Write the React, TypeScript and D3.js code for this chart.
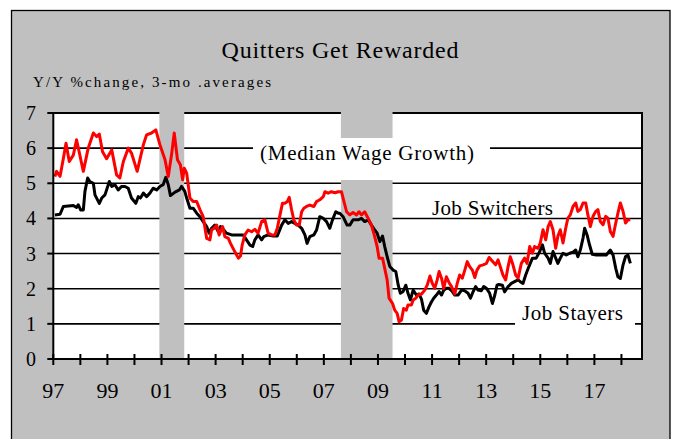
import React from "react";
import * as d3 from "d3";

// fractional year, y/y % change (3-mo avg)
const switchers: [number, number][] = [
  [1997.06, 5.19], [1997.12, 5.34], [1997.25, 5.2], [1997.37, 5.7], [1997.47, 6.14], [1997.59, 5.62],
  [1997.74, 5.8], [1997.86, 6.24], [1998.11, 5.34], [1998.29, 6.0], [1998.48, 6.43], [1998.6, 6.33],
  [1998.7, 6.4], [1998.82, 5.9], [1998.97, 5.7], [1999.16, 5.95], [1999.34, 5.24], [1999.46, 5.15],
  [1999.59, 5.62], [1999.77, 6.0], [1999.89, 5.86], [2000.1, 5.34], [2000.33, 6.1], [2000.45, 6.38],
  [2000.63, 6.43], [2000.79, 6.52], [2000.94, 6.1], [2001.13, 5.67], [2001.25, 5.19], [2001.37, 5.81],
  [2001.47, 6.43], [2001.59, 5.67], [2001.7, 5.52], [2001.78, 5.1], [2001.84, 5.43], [2001.93, 5.29],
  [2002.05, 4.58], [2002.17, 4.48], [2002.3, 4.48], [2002.42, 4.25], [2002.54, 4.05], [2002.67, 3.43],
  [2002.79, 3.39], [2002.85, 3.67], [2002.94, 3.72], [2003.04, 3.81], [2003.13, 3.53], [2003.26, 3.77],
  [2003.34, 3.48], [2003.47, 3.43], [2003.55, 3.29], [2003.71, 3.05], [2003.84, 2.87], [2003.92, 2.93],
  [2003.98, 3.24], [2004.08, 3.53], [2004.2, 3.67], [2004.33, 3.62], [2004.45, 3.69], [2004.57, 3.58],
  [2004.7, 3.91], [2004.82, 3.96], [2004.94, 3.58], [2005.07, 3.53], [2005.19, 3.53], [2005.28, 3.72],
  [2005.38, 4.1], [2005.47, 4.43], [2005.56, 4.43], [2005.65, 4.48], [2005.72, 4.6], [2005.81, 4.24],
  [2005.89, 3.96], [2005.99, 3.81], [2006.09, 3.81], [2006.18, 4.19], [2006.26, 4.29], [2006.36, 4.34],
  [2006.48, 4.38], [2006.63, 4.34], [2006.73, 4.48], [2006.85, 4.53], [2006.98, 4.62], [2007.04, 4.76],
  [2007.16, 4.72], [2007.28, 4.76], [2007.41, 4.73], [2007.53, 4.76], [2007.65, 4.76], [2007.84, 4.19],
  [2007.96, 4.1], [2008.08, 4.17], [2008.21, 4.1], [2008.3, 4.19], [2008.39, 4.1], [2008.51, 4.19],
  [2008.64, 4.0], [2008.76, 3.81], [2008.88, 3.48], [2008.97, 3.2], [2009.04, 2.87], [2009.17, 2.87],
  [2009.25, 2.58], [2009.34, 2.25], [2009.41, 1.73], [2009.54, 1.58], [2009.62, 1.39], [2009.71, 1.3],
  [2009.78, 1.06], [2009.87, 1.11], [2009.95, 1.44], [2010.05, 1.39], [2010.11, 1.54], [2010.24, 1.54],
  [2010.3, 1.68], [2010.4, 1.73], [2010.48, 1.82], [2010.61, 1.85], [2010.73, 1.96], [2010.82, 2.1],
  [2010.92, 2.36], [2011.01, 2.15], [2011.1, 2.01], [2011.19, 2.25], [2011.26, 2.49], [2011.35, 2.3],
  [2011.43, 2.01], [2011.53, 2.34], [2011.63, 2.17], [2011.72, 2.06], [2011.84, 1.85], [2011.93, 2.15],
  [2012.02, 2.39], [2012.12, 2.3], [2012.21, 2.53], [2012.3, 2.77], [2012.39, 2.63], [2012.49, 2.53],
  [2012.58, 2.32], [2012.66, 2.53], [2012.76, 2.65], [2012.89, 2.68], [2013.01, 2.72], [2013.11, 2.89],
  [2013.19, 2.82], [2013.35, 2.68], [2013.44, 2.82], [2013.52, 2.63], [2013.62, 2.39], [2013.72, 2.25],
  [2013.81, 2.63], [2013.89, 2.91], [2013.99, 2.68], [2014.09, 2.39], [2014.18, 2.3], [2014.3, 2.72],
  [2014.42, 2.87], [2014.51, 2.72], [2014.61, 3.2], [2014.71, 3.01], [2014.79, 3.2], [2014.92, 3.15],
  [2015.0, 3.3], [2015.1, 3.68], [2015.2, 3.39], [2015.29, 3.77], [2015.37, 3.91], [2015.47, 3.68],
  [2015.57, 3.15], [2015.65, 3.49], [2015.74, 3.68], [2015.84, 3.3], [2015.94, 3.72], [2016.02, 4.01],
  [2016.11, 4.1], [2016.21, 4.34], [2016.31, 4.44], [2016.39, 4.2], [2016.48, 4.25], [2016.58, 4.44],
  [2016.68, 4.44], [2016.76, 4.1], [2016.85, 3.77], [2016.95, 4.06], [2017.05, 4.2], [2017.13, 4.25],
  [2017.22, 3.91], [2017.32, 3.82], [2017.42, 4.06], [2017.5, 4.01], [2017.59, 3.63], [2017.69, 3.49],
  [2017.79, 3.87], [2017.87, 4.15], [2017.96, 4.44], [2018.06, 4.2], [2018.15, 3.87], [2018.24, 3.96],
  [2018.33, 3.96],
];

const stayers: [number, number][] = [
  [1997.06, 4.1], [1997.25, 4.12], [1997.37, 4.34], [1997.74, 4.37], [1997.86, 4.31], [1997.92, 4.39],
  [1998.01, 4.24], [1998.11, 4.24], [1998.17, 4.77], [1998.27, 5.15], [1998.35, 5.05], [1998.48, 5.0],
  [1998.54, 4.67], [1998.7, 4.43], [1998.79, 4.58], [1998.91, 4.67], [1999.07, 5.05], [1999.16, 4.91],
  [1999.28, 4.96], [1999.4, 4.81], [1999.52, 4.91], [1999.65, 4.91], [1999.77, 4.86], [1999.89, 4.58],
  [2000.05, 4.43], [2000.14, 4.62], [2000.22, 4.58], [2000.33, 4.72], [2000.45, 4.62], [2000.57, 4.72],
  [2000.69, 4.86], [2000.82, 4.81], [2000.94, 4.91], [2001.06, 4.96], [2001.16, 5.17], [2001.25, 4.96],
  [2001.33, 4.65], [2001.5, 4.75], [2001.66, 4.81], [2001.74, 4.91], [2001.86, 4.77], [2001.95, 4.53],
  [2002.05, 4.29], [2002.17, 4.29], [2002.3, 4.15], [2002.42, 4.05], [2002.54, 3.91], [2002.67, 3.77],
  [2002.76, 3.58], [2002.85, 3.72], [2002.97, 3.81], [2003.1, 3.62], [2003.18, 3.77], [2003.28, 3.69],
  [2003.4, 3.58], [2003.59, 3.53], [2003.77, 3.53], [2004.02, 3.53], [2004.14, 3.39], [2004.27, 3.24],
  [2004.37, 3.2], [2004.45, 3.39], [2004.57, 3.53], [2004.7, 3.39], [2004.78, 3.48], [2004.94, 3.53],
  [2005.13, 3.5], [2005.28, 3.5], [2005.44, 3.81], [2005.56, 3.96], [2005.68, 3.86], [2005.81, 3.91],
  [2005.93, 3.86], [2006.05, 3.81], [2006.18, 3.72], [2006.3, 3.53], [2006.38, 3.29], [2006.48, 3.48],
  [2006.63, 3.53], [2006.73, 3.67], [2006.85, 4.05], [2006.98, 4.0], [2007.1, 3.91], [2007.22, 3.72],
  [2007.32, 3.96], [2007.44, 4.19], [2007.53, 4.15], [2007.59, 4.15], [2007.71, 4.05], [2007.86, 3.81],
  [2007.96, 3.81], [2008.08, 3.96], [2008.27, 3.96], [2008.39, 4.0], [2008.51, 3.91], [2008.64, 3.96],
  [2008.76, 3.81], [2008.88, 3.67], [2008.97, 3.58], [2009.07, 3.34], [2009.17, 3.5], [2009.25, 3.2],
  [2009.34, 2.91], [2009.44, 2.63], [2009.56, 2.53], [2009.66, 2.49], [2009.75, 2.1], [2009.83, 1.87],
  [2009.93, 1.92], [2010.03, 2.1], [2010.11, 1.87], [2010.2, 1.68], [2010.3, 1.96], [2010.42, 1.82],
  [2010.52, 1.85], [2010.61, 1.7], [2010.69, 1.39], [2010.79, 1.3], [2010.89, 1.49], [2010.98, 1.63],
  [2011.06, 1.73], [2011.16, 1.82], [2011.26, 1.92], [2011.35, 1.82], [2011.43, 1.96], [2011.53, 2.01],
  [2011.63, 2.01], [2011.75, 1.92], [2011.84, 1.82], [2011.96, 1.82], [2012.09, 1.96], [2012.21, 1.94],
  [2012.33, 1.87], [2012.42, 1.73], [2012.52, 1.92], [2012.61, 2.06], [2012.7, 1.96], [2012.82, 1.94],
  [2012.91, 2.06], [2013.01, 2.01], [2013.13, 1.87], [2013.23, 1.58], [2013.32, 1.82], [2013.4, 2.1],
  [2013.47, 2.12], [2013.6, 2.1], [2013.68, 1.91], [2013.81, 2.06], [2013.93, 2.15], [2014.05, 2.2],
  [2014.18, 2.25], [2014.26, 2.2], [2014.36, 2.15], [2014.46, 2.39], [2014.58, 2.63], [2014.71, 2.87],
  [2014.85, 2.87], [2014.98, 3.06], [2015.08, 3.25], [2015.16, 3.01], [2015.29, 2.87], [2015.37, 2.72],
  [2015.47, 3.06], [2015.57, 2.87], [2015.65, 2.72], [2015.74, 2.87], [2015.84, 3.01], [2015.96, 2.96],
  [2016.09, 3.01], [2016.21, 3.04], [2016.31, 3.1], [2016.39, 2.91], [2016.48, 3.1], [2016.58, 3.44],
  [2016.64, 3.72], [2016.73, 3.53], [2016.82, 3.25], [2016.92, 2.98], [2017.07, 2.96], [2017.26, 2.96],
  [2017.44, 2.96], [2017.59, 3.1], [2017.69, 2.96], [2017.79, 2.58], [2017.87, 2.34], [2017.96, 2.29],
  [2018.06, 2.68], [2018.15, 2.91], [2018.24, 2.96], [2018.33, 2.72],
];

const recessions: [number, number][] = [[2000.92, 2001.84], [2007.63, 2009.54]];
const yearTicks = d3.range(1997, 2019);
const yearLabels = ["97", "99", "01", "03", "05", "07", "09", "11", "13", "15", "17"];
const valueTicks = [0, 1, 2, 3, 4, 5, 6, 7];
const gridValues = [1, 2, 3, 4, 5, 6];

const W = 675;
const H = 439;
const FONT = "'Liberation Serif', 'Times New Roman', serif";
const GRAY = "#c0c0c0";

export default function App() {
  const x = d3.scaleLinear().domain([1997, 2018.76]).range([53.3, 642]);
  const y = d3.scaleLinear().domain([0, 7]).range([359, 113]);
  const line = d3
    .line<[number, number]>()
    .x((d) => x(d[0]))
    .y((d) => y(d[1]));

  const [x0, x1] = x.range();

  return (
    <svg
      width={W}
      height={H}
      style={{ position: "absolute", left: 0, top: 0, display: "block" }}
      fontFamily={FONT}
    >
      <rect x={0} y={0} width={W} height={H} fill="#fff" />
      <rect x={11.5} y={10.5} width={658.5} height={440} fill={GRAY} stroke="#000" strokeWidth={1.3} />

      <text x={340} y={58} fontSize={24} textAnchor="middle" textLength={237} lengthAdjust="spacing">
        Quitters Get Rewarded
      </text>
      <text x={33} y={87} fontSize={15} textLength={238} lengthAdjust="spacing">
        Y/Y %change, 3-mo .averages
      </text>

      {/* plot area */}
      <rect x={x0} y={y(7)} width={x1 - x0} height={y(0) - y(7)} fill="#fff" />
      {gridValues.map((v) => (
        <line key={v} x1={x0} x2={x1} y1={y(v)} y2={y(v)} stroke="#000" strokeWidth={1.6} />
      ))}
      <line x1={x0} x2={x1} y1={y(7)} y2={y(7)} stroke="#000" strokeWidth={2} />

      {recessions.map(([a, b], i) => (
        <rect key={i} x={x(a)} y={y(7) - 1.5} width={x(b) - x(a)} height={y(0) - y(7) + 1.5} fill={GRAY} />
      ))}

      {/* label boxes */}
      <rect x={253} y={138} width={237} height={42} fill="#fff" />
      <text x={260} y={160} fontSize={21} textLength={214} lengthAdjust="spacing">
        (Median Wage Growth)
      </text>
      <text x={432} y={215} fontSize={21} textLength={121} lengthAdjust="spacing">
        Job Switchers
      </text>
      <rect x={515} y={302} width={120} height={32} fill="#fff" />
      <text x={522} y={320} fontSize={21} textLength={101} lengthAdjust="spacing">
        Job Stayers
      </text>

      <path d={line(stayers) ?? ""} fill="none" stroke="#000" strokeWidth={3} strokeLinejoin="round" />
      <path d={line(switchers) ?? ""} fill="none" stroke="#ff0000" strokeWidth={3} strokeLinejoin="round" />

      {/* axes */}
      <line x1={x0} x2={x0} y1={y(7) - 1} y2={y(0) + 1} stroke="#000" strokeWidth={2} />
      <line x1={x1} x2={x1} y1={y(7) - 1} y2={y(0) + 1} stroke="#000" strokeWidth={2} />
      <line x1={x0} x2={x1} y1={y(0)} y2={y(0)} stroke="#000" strokeWidth={2} />
      {valueTicks.map((v) => (
        <g key={v}>
          <line x1={x0 - 6} x2={x0} y1={y(v)} y2={y(v)} stroke="#000" strokeWidth={2} />
          <text x={36} y={y(v) + 7} fontSize={20} textAnchor="end">
            {v}
          </text>
        </g>
      ))}
      {yearTicks.map((t) => (
        <line key={t} x1={x(t)} x2={x(t)} y1={y(0) - 5} y2={y(0) + 6} stroke="#000" strokeWidth={2} />
      ))}
      {yearLabels.map((l, i) => (
        <text key={l} x={x(1997 + 2 * i)} y={398} fontSize={22} textAnchor="middle">
          {l}
        </text>
      ))}
    </svg>
  );
}
